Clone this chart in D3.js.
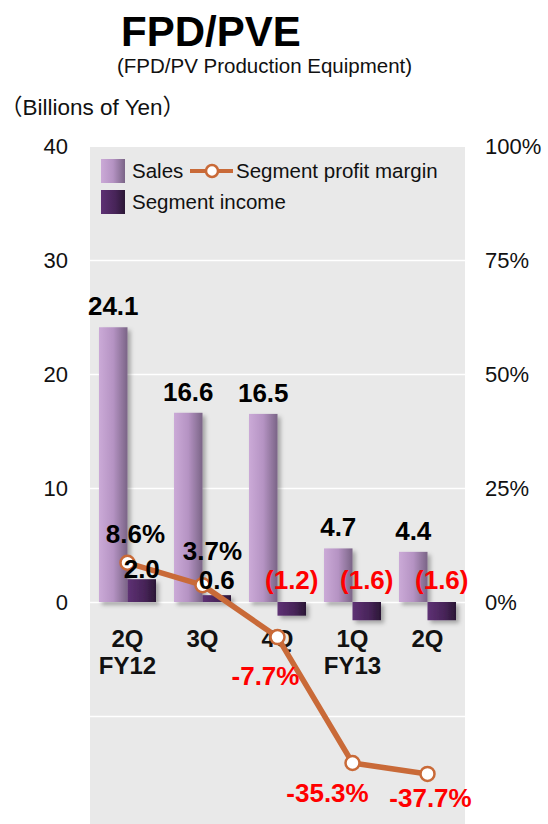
<!DOCTYPE html>
<html>
<head>
<meta charset="utf-8">
<script src="https://cdn.jsdelivr.net/npm/d3@7"></script>
<style>
  body { margin: 0; background: #fff; }
  text { font-family: Arial, "Liberation Sans", sans-serif; }
</style>
</head>
<body>
<div id="chart"></div>
<script>
// Chart data (billions of yen / percent)
const quarters = ["2Q", "3Q", "4Q", "1Q", "2Q"];
const fiscalYears = ["FY12", "", "", "FY13", ""];
const sales = [24.1, 16.6, 16.5, 4.7, 4.4];
const segmentIncome = [2.0, 0.6, -1.2, -1.6, -1.6];
const profitMargin = [8.6, 3.7, -7.7, -35.3, -37.7];
const leftTicks = [0, 10, 20, 30, 40];
const rightTicks = [0, 25, 50, 75, 100];
const gridTicks = [-10, 0, 10, 20, 30];

const W = 548, H = 824;
const plot = { left: 90, right: 465, top: 147, bottom: 824 };

const svg = d3.select("#chart").append("svg")
  .attr("width", W).attr("height", H);

const defs = svg.append("defs");
const grad = (id, stops) => {
  const g = defs.append("linearGradient").attr("id", id)
    .attr("x1", 0).attr("x2", 1).attr("y1", 0).attr("y2", 0);
  stops.forEach(([o, c]) => g.append("stop").attr("offset", o).attr("stop-color", c));
};
grad("gSales", [[0, "#cbaad7"], [0.5, "#b593c3"], [1, "#7a6486"]]);
grad("gIncome", [[0, "#5e3174"], [0.6, "#472458"], [1, "#2b1735"]]);
defs.append("filter").attr("id", "shadow")
  .attr("x", "-20%").attr("y", "-20%").attr("width", "150%").attr("height", "150%")
  .append("feDropShadow")
  .attr("dx", 3).attr("dy", 3).attr("stdDeviation", 2)
  .attr("flood-color", "#000").attr("flood-opacity", 0.3);

// scales
const idx = quarters.map((d, i) => i);
const x = d3.scaleBand().domain(idx).range([plot.left, plot.right])
  .paddingInner(0.24).paddingOuter(0.12);
const xSub = d3.scaleBand().domain(["sales", "income"]).range([0, x.bandwidth()]);
const yL = d3.scaleLinear().domain([0, 40]).range([602, 146]);
const yR = d3.scaleLinear().domain([0, 100]).range([602, 146]);

// background
svg.append("rect")
  .attr("x", plot.left).attr("y", plot.top)
  .attr("width", plot.right - plot.left).attr("height", plot.bottom - plot.top)
  .attr("fill", "#e9e9e9");

// grid lines
svg.append("g")
  .attr("transform", `translate(${plot.left},0)`)
  .call(d3.axisLeft(yL).tickValues(gridTicks).tickSize(-(plot.right - plot.left)).tickFormat(""))
  .call(g => g.select(".domain").remove())
  .selectAll(".tick line").attr("stroke", "#fff").attr("stroke-width", 1.5);

// axes
svg.append("g")
  .attr("transform", `translate(${plot.left},0)`)
  .call(d3.axisLeft(yL).tickValues(leftTicks).tickSize(0).tickPadding(22))
  .call(g => g.select(".domain").remove())
  .selectAll("text").attr("font-size", 22).attr("fill", "#111")
  .style("font-family", "Arial, 'Liberation Sans', sans-serif");

svg.append("g")
  .attr("transform", `translate(${plot.right},0)`)
  .call(d3.axisRight(yR).tickValues(rightTicks).tickSize(0).tickPadding(20).tickFormat(d => d + "%"))
  .call(g => g.select(".domain").remove())
  .selectAll("text").attr("font-size", 22).attr("fill", "#111")
  .style("font-family", "Arial, 'Liberation Sans', sans-serif");

// bars
const bars = svg.append("g").attr("filter", "url(#shadow)");
bars.selectAll(".sales").data(sales).join("rect")
  .attr("x", (d, i) => x(i) + xSub("sales"))
  .attr("width", xSub.bandwidth())
  .attr("y", d => yL(d))
  .attr("height", d => yL(0) - yL(d))
  .attr("fill", "url(#gSales)");
bars.selectAll(".income").data(segmentIncome).join("rect")
  .attr("x", (d, i) => x(i) + xSub("income"))
  .attr("width", xSub.bandwidth())
  .attr("y", d => Math.min(yL(d), yL(0)))
  .attr("height", d => Math.abs(yL(0) - yL(d)))
  .attr("fill", "url(#gIncome)");

// x labels
const xl = svg.append("g").attr("font-weight", "bold").attr("font-size", 24)
  .attr("text-anchor", "middle").attr("fill", "#111");
quarters.forEach((q, i) => {
  const cx = x(i) + x.bandwidth() / 2;
  xl.append("text").attr("x", cx).attr("y", 647).text(q);
  if (fiscalYears[i]) xl.append("text").attr("x", cx).attr("y", 674).text(fiscalYears[i]);
});

// profit margin line
const px = i => x(i) + x.bandwidth() / 2;
svg.append("path")
  .datum(profitMargin)
  .attr("fill", "none")
  .attr("stroke", "#c96a38")
  .attr("stroke-width", 5.5)
  .attr("stroke-linejoin", "round")
  .attr("d", d3.line().x((d, i) => px(i)).y(d => yR(d)));
svg.selectAll(".pt").data(profitMargin).join("circle")
  .attr("cx", (d, i) => px(i)).attr("cy", d => yR(d)).attr("r", 7)
  .attr("fill", "#fff").attr("stroke", "#c96a38").attr("stroke-width", 2.5);

// value labels
const lab = svg.append("g").attr("font-weight", "bold").attr("font-size", 26)
  .attr("text-anchor", "middle");
sales.forEach((v, i) => {
  lab.append("text")
    .attr("x", x(i) + xSub("sales") + xSub.bandwidth() / 2)
    .attr("y", yL(v) - 12)
    .attr("fill", "#000").text(v.toFixed(1));
});
segmentIncome.forEach((v, i) => {
  lab.append("text")
    .attr("x", x(i) + xSub("income") + xSub.bandwidth() / 2)
    .attr("y", Math.min(yL(v), yL(0) - 12) - 1)
    .attr("fill", v < 0 ? "#ff0000" : "#000")
    .text(v < 0 ? `(${Math.abs(v).toFixed(1)})` : v.toFixed(1));
});
// margin label offsets from their points
const marginOffsets = [[8, -20], [10, -25], [-12, 48], [-25, 39], [3, 33]];
profitMargin.forEach((v, i) => {
  lab.append("text")
    .attr("x", px(i) + marginOffsets[i][0])
    .attr("y", yR(v) + marginOffsets[i][1])
    .attr("fill", v < 0 ? "#ff0000" : "#000")
    .text(v.toFixed(1) + "%");
});

// legend
const lg = svg.append("g").attr("font-size", 20.5).attr("fill", "#111");
lg.append("rect").attr("x", 101).attr("y", 159).attr("width", 24).attr("height", 24).attr("fill", "url(#gSales)");
lg.append("text").attr("x", 132).attr("y", 178).text("Sales");
lg.append("line").attr("x1", 190).attr("x2", 233).attr("y1", 171).attr("y2", 171)
  .attr("stroke", "#c96a38").attr("stroke-width", 4);
lg.append("circle").attr("cx", 212).attr("cy", 171).attr("r", 6)
  .attr("fill", "#fff").attr("stroke", "#c96a38").attr("stroke-width", 2.5);
lg.append("text").attr("x", 236).attr("y", 178).text("Segment profit margin");
lg.append("rect").attr("x", 101).attr("y", 190).attr("width", 24).attr("height", 24).attr("fill", "url(#gIncome)");
lg.append("text").attr("x", 132).attr("y", 209).text("Segment income");

// titles
svg.append("text").attr("x", 121).attr("y", 46)
  .attr("font-size", 42).attr("font-weight", "bold").attr("fill", "#000").text("FPD/PVE");
svg.append("text").attr("x", 117).attr("y", 73)
  .attr("font-size", 20.5).attr("fill", "#111").text("(FPD/PV Production Equipment)");
svg.append("text").attr("x", 0).attr("y", 115)
  .attr("font-size", 22.5).attr("fill", "#111")
  .style("font-family", "Arial, 'Liberation Sans', 'Noto Sans CJK JP', sans-serif")
  .text("（Billions of Yen）");
</script>
</body>
</html>
